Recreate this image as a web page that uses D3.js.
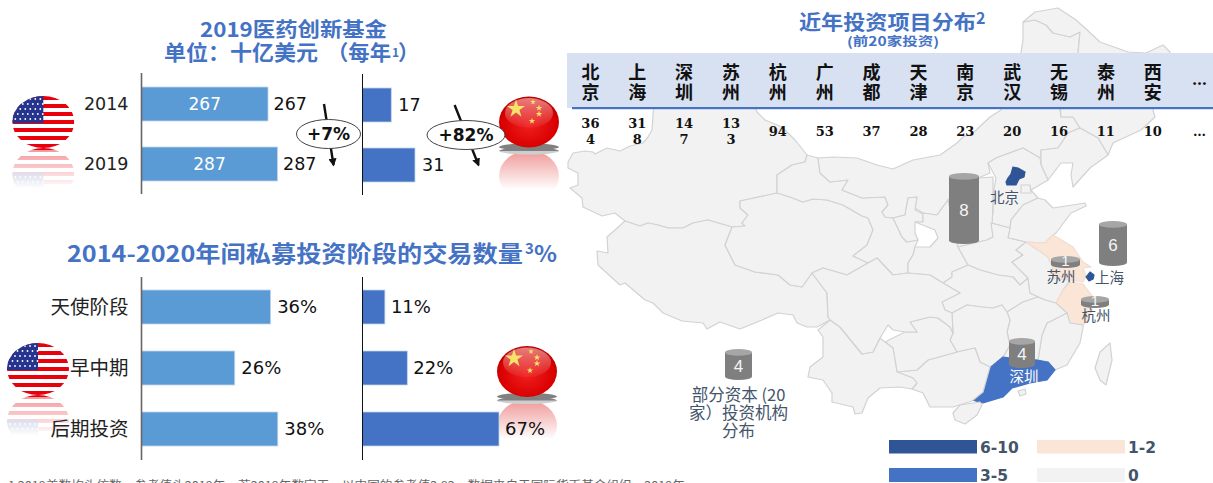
<!DOCTYPE html>
<html><head><meta charset="utf-8">
<style>html,body{margin:0;padding:0;background:#fff;overflow:hidden}svg{display:block}</style>
<script src="https://cdn.jsdelivr.net/npm/d3@7/dist/d3.min.js"></script></head><body>
<script>
// ---- data ----
const fundYears = ["2014","2019"];
const fundUS = [267,287];
const fundCN = [17,31];
const stages = ["天使阶段","早中期","后期投资"];
const stageUS = [36,26,38];
const stageCN = [11,22,67];
const cities = ["北京","上海","深圳","苏州","杭州","广州","成都","天津","南京","武汉","无锡","泰州","西安","…"];
const cityCounts = ["364","318","147","133","94","53","37","28","23","20","16","11","10","…"];
const cylinderValues = [8,6,1,1,4,4];
const cylinderLabels = ["","","苏州","杭州","深圳","部分资本"];
const legendLabels = ["6-10","3-5","1-2","0"];
const provinceNames = ["xinjiang","tibet","qinghai","gansu","neimenggu","heilongjiang","jilin","liaoning","hebei","tianjin","beijing","shanxi","shandong","ningxia","shaanxi","henan","hubei","anhui","jiangsu","shanghai","zhejiang","fujian","jiangxi","hunan","guangdong","guangxi","guizhou","yunnan","sichuan","hainan","taiwan","hk"];
const provinceProjects = {beijing:8,shanghai:6,guangdong:4,jiangsu:1,zhejiang:1};
// map outlines, traced in map units
const xinjiang=[[652,130],[654,100],[752,100],[757,112],[765,120],[782,127],[795,140],[807,155],[805,162],[792,165],[777,175],[777,193],[740,201],[740,208],[748,215],[742,223],[745,226],[732,227],[708,220],[693,223],[683,228],[668,228],[658,225],[648,223],[640,226],[625,221],[615,213],[602,216],[583,207],[582,198],[570,188],[578,185],[578,173],[568,168],[568,162],[573,153],[585,151],[593,152],[595,154],[607,148],[620,151],[630,146],[643,143],[648,137]];
const tibet=[[625,221],[640,226],[648,223],[658,225],[668,228],[683,228],[693,223],[708,220],[732,227],[725,245],[735,265],[755,272],[778,275],[790,285],[802,287],[812,273],[827,293],[828,317],[830,320],[817,327],[807,327],[797,323],[793,315],[778,313],[762,320],[740,329],[720,322],[707,329],[703,323],[682,321],[663,313],[653,303],[645,300],[625,283],[620,285],[598,265],[597,251],[608,253],[607,237],[615,230]];
const qinghai=[[777,193],[790,197],[803,202],[813,199],[827,200],[843,205],[862,216],[868,218],[873,230],[867,245],[853,256],[868,263],[847,275],[823,268],[812,273],[802,287],[790,285],[778,275],[755,272],[735,265],[725,245],[732,227],[745,226],[742,223],[748,215],[740,208],[740,201]];
const gansu=[[777,193],[777,175],[792,165],[805,162],[807,155],[818,158],[820,173],[830,182],[848,180],[842,190],[862,198],[885,197],[888,205],[882,212],[885,217],[893,218],[902,237],[907,242],[918,240],[915,247],[913,255],[908,263],[908,273],[893,275],[877,258],[868,263],[853,256],[867,245],[873,230],[868,218],[862,216],[843,205],[827,200],[813,199],[803,202],[790,197]];
const neimenggu=[[818,158],[833,157],[857,158],[877,165],[893,169],[913,160],[940,155],[957,143],[963,137],[973,133],[990,117],[1001,110],[1010,90],[1020,60],[1021,53],[1023,40],[1023,22],[1035,20],[1046,25],[1053,33],[1070,37],[1080,32],[1078,53],[1060,110],[1061,117],[1073,117],[1080,128],[1068,133],[1058,148],[1041,150],[1041,165],[1040,158],[1023,148],[996,158],[988,163],[990,173],[978,178],[948,200],[937,215],[923,213],[915,208],[917,197],[908,198],[905,215],[893,218],[885,217],[882,212],[888,205],[885,197],[862,198],[842,190],[848,180],[830,182],[820,173]];
const heilongjiang=[[1023,22],[1035,12],[1058,8],[1076,20],[1085,28],[1100,42],[1128,52],[1146,53],[1163,45],[1170,52],[1165,75],[1155,92],[1060,100],[1078,53],[1080,32],[1070,37],[1053,33],[1046,25],[1035,20]];
const jilin=[[1060,100],[1155,92],[1153,110],[1155,117],[1141,130],[1113,143],[1108,155],[1098,138],[1080,128],[1073,117],[1061,117]];
const liaoning=[[1041,150],[1058,148],[1068,133],[1080,128],[1098,138],[1108,155],[1090,168],[1073,187],[1071,175],[1073,163],[1061,163],[1048,180],[1041,165]];
const hebei=[[988,163],[996,158],[1023,148],[1040,158],[1041,165],[1048,180],[1031,190],[1038,198],[1023,205],[1011,220],[1010,228],[991,223],[993,213],[993,195],[996,178]];
const tianjin=[[1021,185],[1030,185],[1031,193],[1021,193]];
const beijing=[[1013,167],[1018,168],[1025,172],[1024,177],[1019,179],[1016,185],[1007,185],[1006,182],[1008,178],[1011,174]];
const shanxi=[[948,200],[978,178],[993,177],[993,203],[992,227],[993,237],[987,240],[958,247]];
const shandong=[[1071,213],[1056,233],[1053,235],[1045,243],[1026,242],[1008,238],[1010,228],[1011,220],[1023,205],[1038,198],[1045,200],[1053,208],[1085,203],[1086,206]];
const ningxia=[[893,218],[905,215],[908,198],[917,197],[915,210],[923,214],[923,222],[915,222],[915,233],[918,240],[907,242],[902,237]];
const shaanxi=[[915,222],[923,222],[923,213],[937,215],[948,200],[958,247],[968,265],[952,272],[952,277],[943,283],[930,275],[908,273],[908,263],[913,255],[915,247],[930,247],[938,238],[935,230]];
const henan=[[958,247],[987,240],[993,237],[991,223],[1010,228],[1008,238],[1026,242],[1016,250],[1023,255],[1012,262],[1028,278],[1020,285],[1013,277],[998,275],[980,270],[968,265]];
const hubei=[[952,277],[952,272],[968,265],[980,270],[998,275],[1013,277],[1020,285],[1028,278],[1030,293],[1045,300],[1038,297],[1023,302],[1007,312],[1002,305],[993,308],[982,307],[967,305],[952,313],[945,310],[942,302],[960,293],[943,283]];
const anhui=[[1026,242],[1041,252],[1048,257],[1053,268],[1053,278],[1070,280],[1063,290],[1056,303],[1045,300],[1030,293],[1028,278],[1012,262],[1023,255],[1016,250]];
const jiangsu=[[1026,242],[1045,243],[1053,235],[1073,247],[1083,262],[1091,267],[1083,268],[1086,276],[1083,282],[1070,280],[1053,278],[1053,268],[1048,257],[1041,252]];
const shanghai=[[1090,272],[1094,275],[1093,279],[1089,281],[1086,277]];
const zhejiang=[[1063,290],[1070,282],[1083,284],[1093,297],[1092,310],[1088,320],[1083,325],[1070,323],[1063,313],[1056,303]];
const fujian=[[1067,313],[1047,323],[1042,335],[1038,360],[1055,370],[1067,365],[1080,343],[1083,328],[1083,325],[1070,323]];
const jiangxi=[[1007,312],[1023,302],[1038,297],[1045,300],[1056,303],[1067,313],[1047,323],[1042,335],[1038,360],[1010,358],[1003,357],[1010,345],[1007,332],[1010,320]];
const hunan=[[952,313],[967,305],[982,307],[993,308],[1002,305],[1007,312],[1010,320],[1007,332],[1010,345],[1003,357],[990,367],[980,362],[975,348],[957,352],[950,340],[953,333]];
const guangdong=[[972,400],[983,392],[990,368],[1003,357],[1010,358],[1037,360],[1048,362],[1055,370],[1047,380],[1030,383],[1012,388],[1003,397],[983,403]];
const guangxi=[[897,372],[917,370],[928,360],[957,352],[975,348],[980,362],[990,367],[983,392],[972,401],[953,407],[930,407],[923,393],[912,389],[917,383],[913,378]];
const guizhou=[[885,342],[905,332],[917,332],[910,322],[930,317],[938,318],[950,327],[953,333],[950,340],[957,352],[928,360],[917,370],[897,372],[893,348]];
const yunnan=[[818,330],[830,320],[840,327],[862,354],[873,352],[880,338],[885,342],[893,348],[897,372],[913,378],[917,383],[912,389],[900,387],[880,388],[868,398],[862,413],[855,414],[853,407],[832,402],[832,393],[823,380],[808,377],[810,367],[823,357],[823,337]];
const sichuan=[[812,273],[823,268],[847,275],[868,263],[877,258],[893,275],[908,273],[930,275],[943,283],[960,293],[942,302],[945,310],[952,313],[953,333],[950,327],[938,318],[930,317],[910,322],[917,332],[905,332],[893,330],[888,325],[880,338],[873,352],[862,354],[840,327],[830,320],[828,317],[827,293]];
const hainan=[[953,413],[960,405],[980,402],[982,405],[977,415],[965,424],[955,420]];
const taiwan=[[1110,343],[1112,360],[1106,385],[1100,380],[1095,368],[1100,352]];
const hk=[[1018,391],[1025,389],[1026,394],[1020,396]];
const rings={xinjiang,tibet,qinghai,gansu,neimenggu,heilongjiang,jilin,liaoning,hebei,tianjin,beijing,shanxi,shandong,ningxia,shaanxi,henan,hubei,anhui,jiangsu,shanghai,zhejiang,fujian,jiangxi,hunan,guangdong,guangxi,guizhou,yunnan,sichuan,hainan,taiwan,hk};

// ---- layout ----
const W=1213,H=483;
const CJK='"Noto Sans CJK SC","Noto Sans",sans-serif';
const LAT='"DejaVu Sans",'+CJK;
const BLUE='#4472c4',LBLUE='#5b9bd5',SLATE='#44546a';
const svg=d3.select('body').append('svg').attr('width',W).attr('height',H).style('font-family',CJK);
const defs=svg.append('defs');

// map
const projectClass=d3.scaleThreshold().domain([1,3,6]).range(['#f2f2f2','#fbe5d6',BLUE,'#2f5597']);
const line=d3.line().curve(d3.curveLinear);
const mapG=svg.append('g');
mapG.selectAll('path').data(provinceNames).join('path')
  .attr('d',n=>line(rings[n])+'Z')
  .attr('fill',n=>projectClass(provinceProjects[n]||0))
  .attr('stroke',n=>provinceProjects[n]>=3?projectClass(provinceProjects[n]):provinceProjects[n]?'#f0ddd0':'#d2d2d2')
  .attr('stroke-width',1.2).attr('stroke-linejoin','round');

// table
svg.append('rect').attr('x',567).attr('y',53).attr('width',W-567).attr('height',55).attr('fill','#d8e1f2');
svg.append('rect').attr('x',572).attr('y',107).attr('width',W-572).attr('height',2.2).attr('fill',BLUE);
const cityX=d3.scalePoint().domain(cities).range([590.4,1199.6]);
cities.forEach((c,i)=>{
  const chars=Array.from(c), cnt=cityCounts[i];
  if(chars.length>1){ chars.forEach((ch,j)=>svg.append('text').attr('x',cityX(c)).attr('y',73+j*20).attr('dy','.36em')
     .attr('text-anchor','middle').attr('font-size',18).attr('font-weight',700).attr('fill','#111').text(ch)); }
  else svg.append('text').attr('x',cityX(c)).attr('y',85).attr('text-anchor','middle').attr('font-family','"DejaVu Serif",serif').attr('font-size',15).attr('font-weight',700).attr('fill','#111').text('…');
  const parts=cnt.length===3?[cnt.slice(0,2),cnt.slice(2)]:[cnt];
  parts.forEach((p,j)=>svg.append('text').attr('x',cityX(c)).attr('y',parts.length>1?123+j*16:131).attr('dy','.36em')
     .attr('text-anchor','middle').attr('font-family','"DejaVu Serif",serif').attr('font-weight',700).attr('font-size',13).attr('fill','#111').text(p));
});

// titles
function title(x,y,size,txt,len){const t=svg.append('text').attr('x',x).attr('y',y).attr('dy','.36em').attr('font-size',size).attr('font-weight',700).attr('fill',BLUE).text(txt);if(len)t.attr('textLength',len).attr('lengthAdjust','spacingAndGlyphs');return t;}
title(200,30,20.5,'2019医药创新基金',187);
title(164,52,21,'单位：十亿美元',154);
title(327,52,21,'（每年',64);
title(392,53,12,'1');
title(398,52,21,'）');
title(67,254,22.5,'2014-2020年间私募投资阶段的交易数量',456);
title(525,249,15,'3');
title(534,254,22,'%',23);
title(799,23,20,'近年投资项目分布',177);
title(976,18,16,'2');
title(847,41,12.5,'(前20家投资)',92);

// bar panels
function panel(o){
  const y=d3.scaleBand().domain(o.cats).range(o.yr);
  const x=d3.scaleLinear().domain([0,o.max]).range([o.x0,o.x0+o.px]);
  const g=svg.append('g');
  g.selectAll('rect').data(o.vals).join('rect')
    .attr('x',o.x0).attr('y',(d,i)=>y(o.cats[i])+o.pad)
    .attr('width',d=>x(d)-o.x0).attr('height',o.h)
    .attr('fill',o.fill).attr('stroke','#c3d5ee').attr('stroke-width',.8);
  g.selectAll('text.v').data(o.vals).join('text').attr('class','v')
    .attr('x',d=>x(d)+o.gap).attr('y',(d,i)=>y(o.cats[i])+o.pad+o.h/2).attr('dy','.36em')
    .attr('font-family',LAT).attr('font-size',o.vsize).attr('fill','#111').text(d=>d+o.suffix);
  if(o.inside) g.selectAll('text.i').data(o.vals).join('text').attr('class','i')
    .attr('x',d=>(x(d)+o.x0)/2).attr('y',(d,i)=>y(o.cats[i])+o.pad+o.h/2).attr('dy','.36em').attr('text-anchor','middle')
    .attr('font-family',LAT).attr('font-size',17).attr('fill','#fff').text(d=>d);
  if(o.labels) g.selectAll('text.c').data(o.cats).join('text').attr('class','c')
    .attr('x',128.5).attr('y',d=>y(d)+o.pad+o.h/2).attr('dy','.36em').attr('text-anchor','end')
    .attr('font-family',LAT).attr('font-size',o.lsize).attr('fill','#222').text(d=>d);
  g.append('line').attr('x1',o.x0).attr('x2',o.x0).attr('y1',o.ya[0]).attr('y2',o.ya[1]).attr('stroke',o.axis).attr('stroke-width',o.aw);
}
const flagLayer=svg.append('g');
panel({cats:fundYears,vals:fundUS,max:287,x0:141.5,px:136,yr:[73,193],pad:14,h:34,fill:LBLUE,gap:5.5,suffix:'',inside:true,labels:true,lsize:17.5,vsize:17.5,ya:[73,194],axis:'#666',aw:1.6});
panel({cats:fundYears,vals:fundCN,max:31,x0:362.5,px:52.5,yr:[74,194],pad:14,h:34,fill:BLUE,gap:7,suffix:'',vsize:17.5,ya:[74,195],axis:'#111',aw:1});
panel({cats:stages,vals:stageUS,max:38,x0:141.5,px:136.3,yr:[279,462],pad:11,h:34,fill:LBLUE,gap:6.5,suffix:'%',labels:true,lsize:19.5,vsize:18,ya:[277,460],axis:'#666',aw:1.6});
panel({cats:stages,vals:stageCN,max:67,x0:362.5,px:136.5,yr:[279,462],pad:11,h:34,fill:BLUE,gap:6,suffix:'%',vsize:18,ya:[277,460],axis:'#111',aw:1});

// growth bubbles
const markerId='arr';
defs.append('marker').attr('id',markerId).attr('viewBox','0 0 10 10').attr('refX',8).attr('refY',5).attr('markerWidth',3.4).attr('markerHeight',3.4).attr('orient','auto')
  .append('path').attr('d','M0,0L10,5L0,10Z').attr('fill','#111');
[{x1:324,y1:104,x2:333.5,y2:165,cx:328.5,cy:134,rx:32,ry:14.5,t:'+7%'},{x1:454.6,y1:105,x2:478.5,y2:165,cx:466,cy:135,rx:39,ry:14.5,t:'+82%'}].forEach(b=>{
  svg.append('line').attr('x1',b.x1).attr('y1',b.y1).attr('x2',b.x2).attr('y2',b.y2).attr('stroke','#111').attr('stroke-width',2.4).attr('marker-end','url(#'+markerId+')');
  svg.append('ellipse').attr('cx',b.cx).attr('cy',b.cy).attr('rx',b.rx).attr('ry',b.ry).attr('fill','#fff').attr('stroke','#444').attr('stroke-width',1);
  svg.append('text').attr('x',b.cx).attr('y',b.cy).attr('dy','.36em').attr('text-anchor','middle').attr('font-family',LAT).attr('font-weight',700).attr('font-size',17).attr('fill','#111').text(b.t);
});

// flags
const fade=defs.append('linearGradient').attr('id','fade').attr('x1',0).attr('x2',0).attr('y1',0).attr('y2',1);
fade.append('stop').attr('offset',0).attr('stop-color','#fff').attr('stop-opacity',.6);
fade.append('stop').attr('offset',.72).attr('stop-color','#fff').attr('stop-opacity',1);
fade.append('stop').attr('offset',1).attr('stop-color','#fff').attr('stop-opacity',1);
const ball=defs.append('radialGradient').attr('id','ball').attr('cx','50%').attr('cy','55%').attr('r','60%');
ball.append('stop').attr('offset',0).attr('stop-color','#f02020');
ball.append('stop').attr('offset',.75).attr('stop-color','#d90000');
ball.append('stop').attr('offset',1).attr('stop-color','#a80000');
const gloss=defs.append('linearGradient').attr('id','gloss').attr('x1',0).attr('x2',0).attr('y1',0).attr('y2',1);
gloss.append('stop').attr('offset',0).attr('stop-color','#fff').attr('stop-opacity',.5);
gloss.append('stop').attr('offset',1).attr('stop-color','#fff').attr('stop-opacity',.03);

function usFlag(g,cx,cy,id){
  defs.append('clipPath').attr('id',id).append('ellipse').attr('cx',cx).attr('cy',cy).attr('rx',31).attr('ry',26);
  const a=g.append('g').attr('clip-path','url(#'+id+')');
  a.append('rect').attr('x',cx-31).attr('y',cy-26).attr('width',62).attr('height',52).attr('fill','#fff');
  a.selectAll('rect.s').data(d3.range(0,13,2)).join('rect').attr('class','s').attr('x',cx-31).attr('y',d=>cy-26+d*4).attr('width',62).attr('height',4).attr('fill','#e8000d');
  a.append('rect').attr('x',cx-31).attr('y',cy-26).attr('width',31).attr('height',27).attr('fill','#24348f');
  d3.range(5).forEach(r=>d3.range(6).forEach(c=>a.append('circle').attr('cx',cx-28+c*5+(r%2)*2.5).attr('cy',cy-23+r*5).attr('r',.9).attr('fill','#fff')));
}
function cnFlag(g,cx,cy){
  g.append('ellipse').attr('cx',cx).attr('cy',cy+25).attr('rx',30).attr('ry',3.5).attr('fill','#808080');
  g.append('ellipse').attr('cx',cx).attr('cy',cy).attr('rx',30).attr('ry',25.5).attr('fill','url(#ball)');
  g.append('ellipse').attr('cx',cx).attr('cy',cy-9).attr('rx',24).attr('ry',15).attr('fill','url(#gloss)');
  const star=d3.symbol().type(d3.symbolStar);
  [[-13,-13,100],[4,-20,10],[10,-14,14],[10,-8,14],[3,-1,12]].forEach(s=>g.append('path').attr('d',star.size(s[2])()).attr('transform',`translate(${cx+s[0]},${cy+s[1]})`).attr('fill','#f7e36a'));
}
function withReflection(draw,cx,cy,ph){
  const base=flagLayer.append('g');draw(base,cx,cy,'f'+ph);
  const r=flagLayer.append('g').attr('transform',`translate(0,${2*cy+52}) scale(1,-1)`);draw(r,cx,cy,'r'+ph);
  flagLayer.append('rect').attr('x',cx-34).attr('y',cy+28).attr('width',68).attr('height',54).attr('fill','url(#fade)');
}
withReflection(usFlag,43.3,122,'a');
withReflection(usFlag,38,369,'b');
function cnR(cx,cy){
  const r=flagLayer.append('g').attr('transform',`translate(0,${2*cy+54}) scale(1,-1)`);
  r.append('ellipse').attr('cx',cx).attr('cy',cy).attr('rx',30).attr('ry',25.5).attr('fill','#d90000');
  r.append('ellipse').attr('cx',cx).attr('cy',cy+25).attr('rx',30).attr('ry',3.5).attr('fill','#808080');
  flagLayer.append('rect').attr('x',cx-34).attr('y',cy+29).attr('width',68).attr('height',54).attr('fill','url(#fade)');
  cnFlag(flagLayer.append('g'),cx,cy);
}
cnR(529,122);cnR(527,371.5);

// cylinders
const cylH=d3.scaleLinear().domain([1,4,6,8]).range([12,30,45,71]);
const cylPlaces=[{cx:964,top:173,w:30},{cx:1113,top:221,w:28},{cx:1065.5,top:256,w:29},{cx:1095,top:296,w:28},{cx:1022,top:338,w:26},{cx:738.5,top:349,w:27}];
cylinderValues.forEach((v,i)=>{
  const p=cylPlaces[i],h=v===4&&i===5?31:cylH(v),rx=p.w/2,ry=3.4,x0=p.cx-rx,x1=p.cx+rx,t=p.top+ry,b=p.top+h-ry;
  const g=svg.append('g');
  g.append('path').attr('d',`M${x0},${t}L${x0},${b}A${rx},${ry} 0 0 0 ${x1},${b}L${x1},${t}Z`).attr('fill','#7f7f7f');
  g.append('ellipse').attr('cx',p.cx).attr('cy',t).attr('rx',rx).attr('ry',ry).attr('fill','#a6a6a6');
  g.append('text').attr('x',p.cx).attr('y',p.top+h/2+(v===1?-1:1)).attr('dy','.36em').attr('text-anchor','middle').attr('font-family','"Liberation Sans",sans-serif').attr('font-size',v===1?15:17).attr('fill','#f5f5f5').text(v);
});

// map labels
[['北京',1004.5,198,SLATE,14.5],['苏州',1061,277,SLATE,14.5],['上海',1109.5,278,SLATE,14.5],['杭州',1096,316,SLATE,14.5],['深圳',1024,377,'#fff',14.5],['部分资本 (20',738.5,395,SLATE,16.5],['家）投资机构',738.5,413,SLATE,16.5],['分布',738.5,431,SLATE,16.5]].forEach(d=>{
  svg.append('text').attr('x',d[1]).attr('y',d[2]).attr('dy','.36em').attr('text-anchor','middle').attr('font-size',d[4]).attr('fill',d[3]).text(d[0]);
});

// legend
const legendColors=['#2f5597',BLUE,'#fbe5d6','#f2f2f2'];
legendLabels.forEach((l,i)=>{
  const col=i<2?889:1037,y=i%2?468:440;
  svg.append('rect').attr('x',col).attr('y',y).attr('width',88).attr('height',i%2?14:13.5).attr('fill',legendColors[i]);
  svg.append('text').attr('x',col+91).attr('y',y+7).attr('dy','.36em').attr('font-family',LAT).attr('font-weight',700).attr('font-size',15.5).attr('fill',SLATE).text(l);
});

// footnote (cut off by the page edge in the reference)
svg.append('text').attr('x',8).attr('y',490).attr('font-size',12).attr('fill','#666').attr('textLength',677).attr('lengthAdjust','spacingAndGlyphs')
  .text('1 2019美数均头仿数，参考值头2019年，若2019年数字无，以中国的参考值2.82，数据来自于国际货币基金组织，2019年');
</script></body></html>
